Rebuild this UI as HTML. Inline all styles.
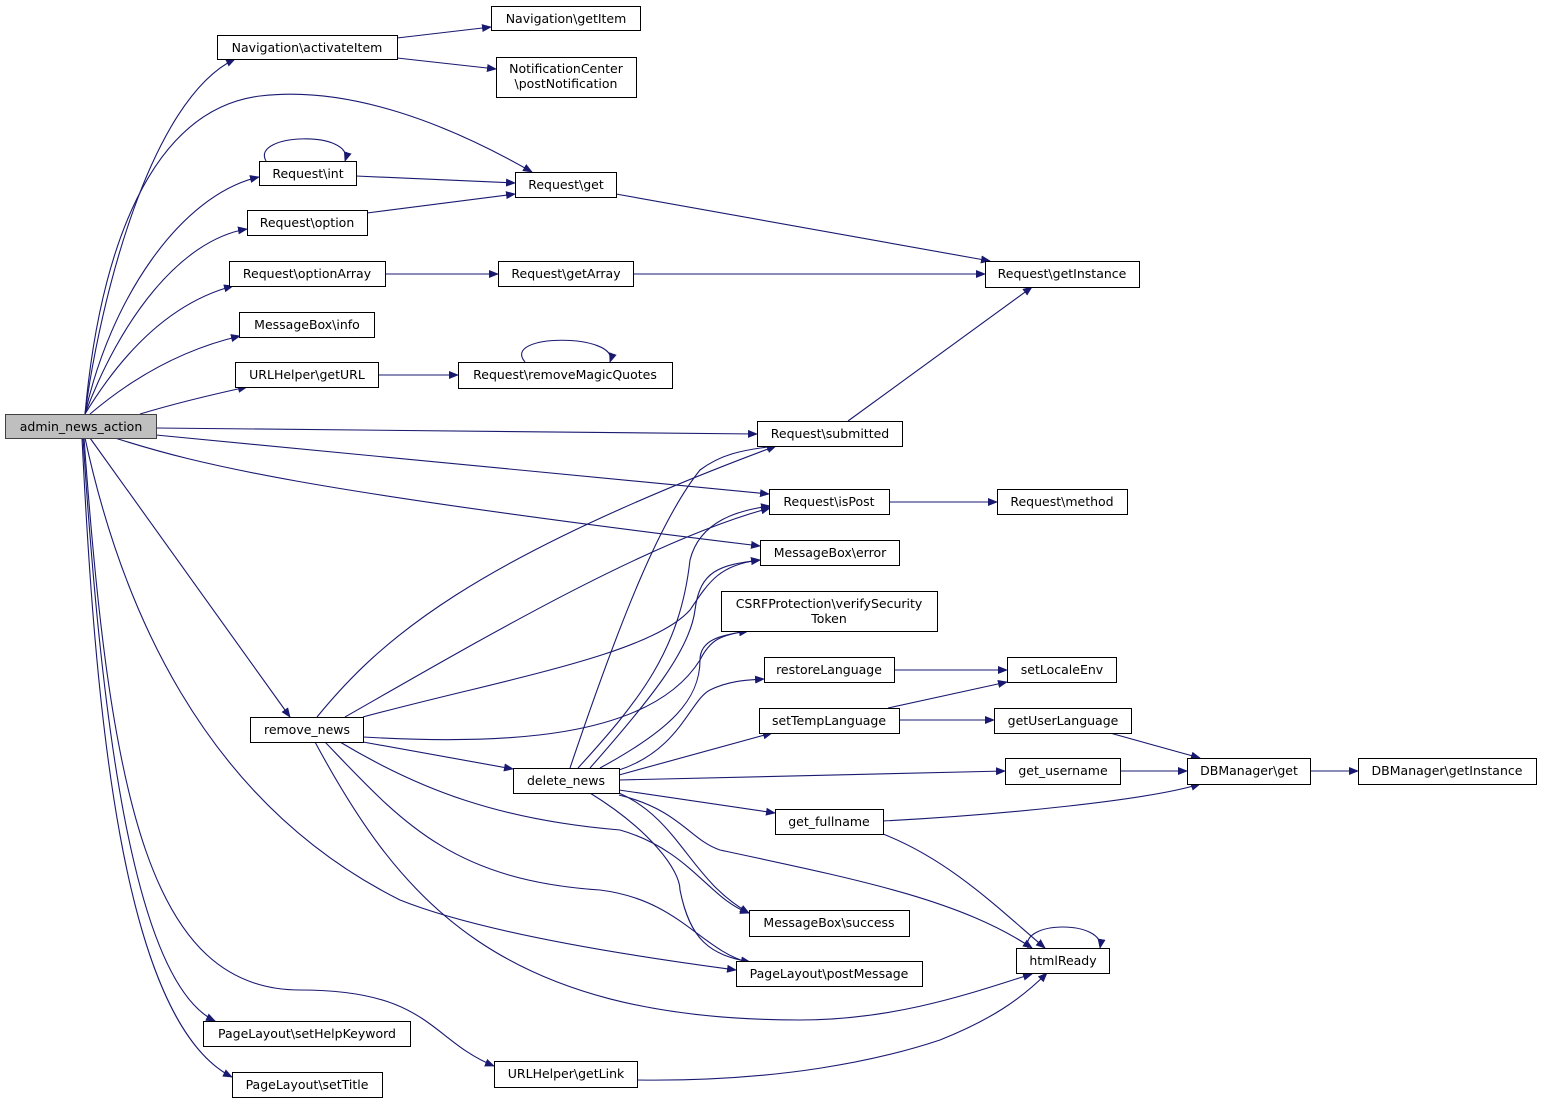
<!DOCTYPE html>
<html><head><meta charset="utf-8"><style>
html,body{margin:0;padding:0;background:#fff;}
svg text{font-family:"DejaVu Sans","Liberation Sans",sans-serif;font-size:12.5px;fill:#000;}
</style></head><body>
<svg width="1543" height="1104" viewBox="0 0 1543 1104" xmlns="http://www.w3.org/2000/svg">
<defs><marker id="a" markerWidth="10" markerHeight="8" refX="9" refY="4" orient="auto" markerUnits="userSpaceOnUse"><polygon points="0,0 10,4 0,8" fill="#191970"/></marker></defs>
<g fill="none" stroke="#191970" stroke-width="1.1" marker-end="url(#a)">
<path d="M85,414 C100,300 150,100 235,59"/>
<path d="M85,414 C100,250 150,110 260,96 C350,85 450,125 532,172"/>
<path d="M85,414 C110,300 180,195 259,177"/>
<path d="M85,414 C120,320 180,240 247,229"/>
<path d="M85,414 C130,340 180,300 233,286"/>
<path d="M90,414 C130,380 180,350 240,336"/>
<path d="M140,414 C170,405 210,395 247,387"/>
<path d="M156,428 L757,434"/>
<path d="M156,435 L769,494"/>
<path d="M115,438 C200,465 300,490 760,546"/>
<path d="M90,438 L290,717"/>
<path d="M85,438 C120,600 200,800 400,900 C500,940 700,965 736,970"/>
<path d="M83,438 C100,700 130,980 215,1021"/>
<path d="M82,438 C95,700 120,1020 232,1077"/>
<path d="M84,438 C110,800 150,990 300,990 C430,990 430,1040 494,1066"/>
<path d="M317,717 C380,640 470,560 776,446"/>
<path d="M345,717 C480,640 650,540 770,508"/>
<path d="M363,717 C500,680 650,655 690,610 C710,580 720,565 760,560"/>
<path d="M363,737 C500,745 650,740 700,660 C710,640 720,635 748,631"/>
<path d="M363,742 L513,769"/>
<path d="M340,742 C420,790 500,820 620,830 C690,850 710,900 749,913"/>
<path d="M325,742 C400,820 450,880 600,890 C680,900 700,950 750,963"/>
<path d="M315,742 C400,900 500,1020 800,1020 C900,1020 980,990 1032,974"/>
<path d="M570,768 C620,620 660,520 700,470 C720,455 740,450 776,446"/>
<path d="M578,768 C640,700 680,650 690,560 C700,520 740,510 770,506"/>
<path d="M590,768 C650,700 690,650 695,610 C700,570 720,565 760,560"/>
<path d="M600,768 C670,730 700,700 700,660 C700,640 720,635 748,631"/>
<path d="M619,770 C680,750 690,700 710,690 C730,680 750,680 764,679"/>
<path d="M619,775 L772,733"/>
<path d="M619,780 L1005,771"/>
<path d="M619,790 L775,813"/>
<path d="M619,793 C680,820 690,880 749,913"/>
<path d="M590,793 C650,830 680,870 680,890 C690,940 710,955 750,962"/>
<path d="M619,795 C680,810 690,840 720,850 C860,880 960,900 1032,948"/>
<path d="M397,38 L491,27"/>
<path d="M397,58 L496,69"/>
<path d="M356,176 L515,183"/>
<path d="M266,161 C250,133 355,130 345,161"/>
<path d="M367,213 L515,194"/>
<path d="M616,194 L990,261"/>
<path d="M385,274 L498,274"/>
<path d="M633,274 L985,274"/>
<path d="M378,375 L458,375"/>
<path d="M525,362 C500,333 620,333 610,362"/>
<path d="M848,421 L1032,287"/>
<path d="M889,502 L997,502"/>
<path d="M894,670 L1007,670"/>
<path d="M888,708 L1007,682"/>
<path d="M899,720 L994,720"/>
<path d="M1110,733 L1200,758"/>
<path d="M1120,771 L1187,771"/>
<path d="M1310,771 L1358,771"/>
<path d="M883,821 C1000,815 1150,800 1200,784"/>
<path d="M883,834 C950,860 1000,910 1045,948"/>
<path d="M1028,948 C1020,920 1105,920 1100,948"/>
<path d="M637,1080 C780,1082 880,1060 940,1040 C990,1020 1020,1000 1047,973"/>
</g>
<g stroke="#000" stroke-width="1" fill="#fff">
<rect x="5.5" y="414.5" width="151" height="24" fill="#bfbfbf" stroke="#404040"/>
<rect x="217.5" y="35.5" width="180" height="24"/>
<rect x="491.5" y="6.5" width="149" height="24"/>
<rect x="496.5" y="57.5" width="140" height="40"/>
<rect x="259.5" y="161.5" width="97" height="24"/>
<rect x="515.5" y="172.5" width="101" height="25"/>
<rect x="247.5" y="210.5" width="120" height="25"/>
<rect x="229.5" y="261.5" width="156" height="25"/>
<rect x="498.5" y="261.5" width="135" height="25"/>
<rect x="985.5" y="261.5" width="154" height="26"/>
<rect x="239.5" y="312.5" width="135" height="25"/>
<rect x="235.5" y="362.5" width="143" height="25"/>
<rect x="458.5" y="362.5" width="214" height="26"/>
<rect x="757.5" y="421.5" width="145" height="25"/>
<rect x="769.5" y="489.5" width="120" height="25"/>
<rect x="997.5" y="489.5" width="130" height="25"/>
<rect x="760.5" y="540.5" width="139" height="25"/>
<rect x="721.5" y="591.5" width="216" height="40"/>
<rect x="764.5" y="657.5" width="130" height="25"/>
<rect x="1007.5" y="657.5" width="109" height="25"/>
<rect x="759.5" y="708.5" width="140" height="25"/>
<rect x="994.5" y="708.5" width="137" height="25"/>
<rect x="250.5" y="717.5" width="113" height="25"/>
<rect x="513.5" y="768.5" width="106" height="25"/>
<rect x="1005.5" y="758.5" width="115" height="26"/>
<rect x="1187.5" y="758.5" width="123" height="26"/>
<rect x="1358.5" y="758.5" width="178" height="26"/>
<rect x="775.5" y="809.5" width="108" height="25"/>
<rect x="749.5" y="910.5" width="160" height="26"/>
<rect x="1016.5" y="948.5" width="93" height="25"/>
<rect x="736.5" y="961.5" width="186" height="25"/>
<rect x="203.5" y="1021.5" width="207" height="25"/>
<rect x="494.5" y="1061.5" width="143" height="26"/>
<rect x="232.5" y="1072.5" width="150" height="25"/>
</g>
<g text-anchor="middle">
<text x="81" y="431">admin_news_action</text>
<text x="307" y="52">Navigation\activateItem</text>
<text x="566" y="23">Navigation\getItem</text>
<text x="566" y="73">NotificationCenter</text>
<text x="566" y="88">\postNotification</text>
<text x="308" y="178">Request\int</text>
<text x="566" y="189">Request\get</text>
<text x="307" y="227">Request\option</text>
<text x="307" y="278">Request\optionArray</text>
<text x="566" y="278">Request\getArray</text>
<text x="1062" y="278">Request\getInstance</text>
<text x="307" y="329">MessageBox\info</text>
<text x="307" y="379">URLHelper\getURL</text>
<text x="565" y="379">Request\removeMagicQuotes</text>
<text x="830" y="438">Request\submitted</text>
<text x="829" y="506">Request\isPost</text>
<text x="1062" y="506">Request\method</text>
<text x="830" y="557">MessageBox\error</text>
<text x="829" y="608">CSRFProtection\verifySecurity</text>
<text x="829" y="623">Token</text>
<text x="829" y="674">restoreLanguage</text>
<text x="1062" y="674">setLocaleEnv</text>
<text x="829" y="725">setTempLanguage</text>
<text x="1063" y="725">getUserLanguage</text>
<text x="307" y="734">remove_news</text>
<text x="566" y="785">delete_news</text>
<text x="1063" y="775">get_username</text>
<text x="1249" y="775">DBManager\get</text>
<text x="1447" y="775">DBManager\getInstance</text>
<text x="829" y="826">get_fullname</text>
<text x="829" y="927">MessageBox\success</text>
<text x="1063" y="965">htmlReady</text>
<text x="829" y="978">PageLayout\postMessage</text>
<text x="307" y="1038">PageLayout\setHelpKeyword</text>
<text x="566" y="1078">URLHelper\getLink</text>
<text x="307" y="1089">PageLayout\setTitle</text>
</g>
</svg>
</body></html>
